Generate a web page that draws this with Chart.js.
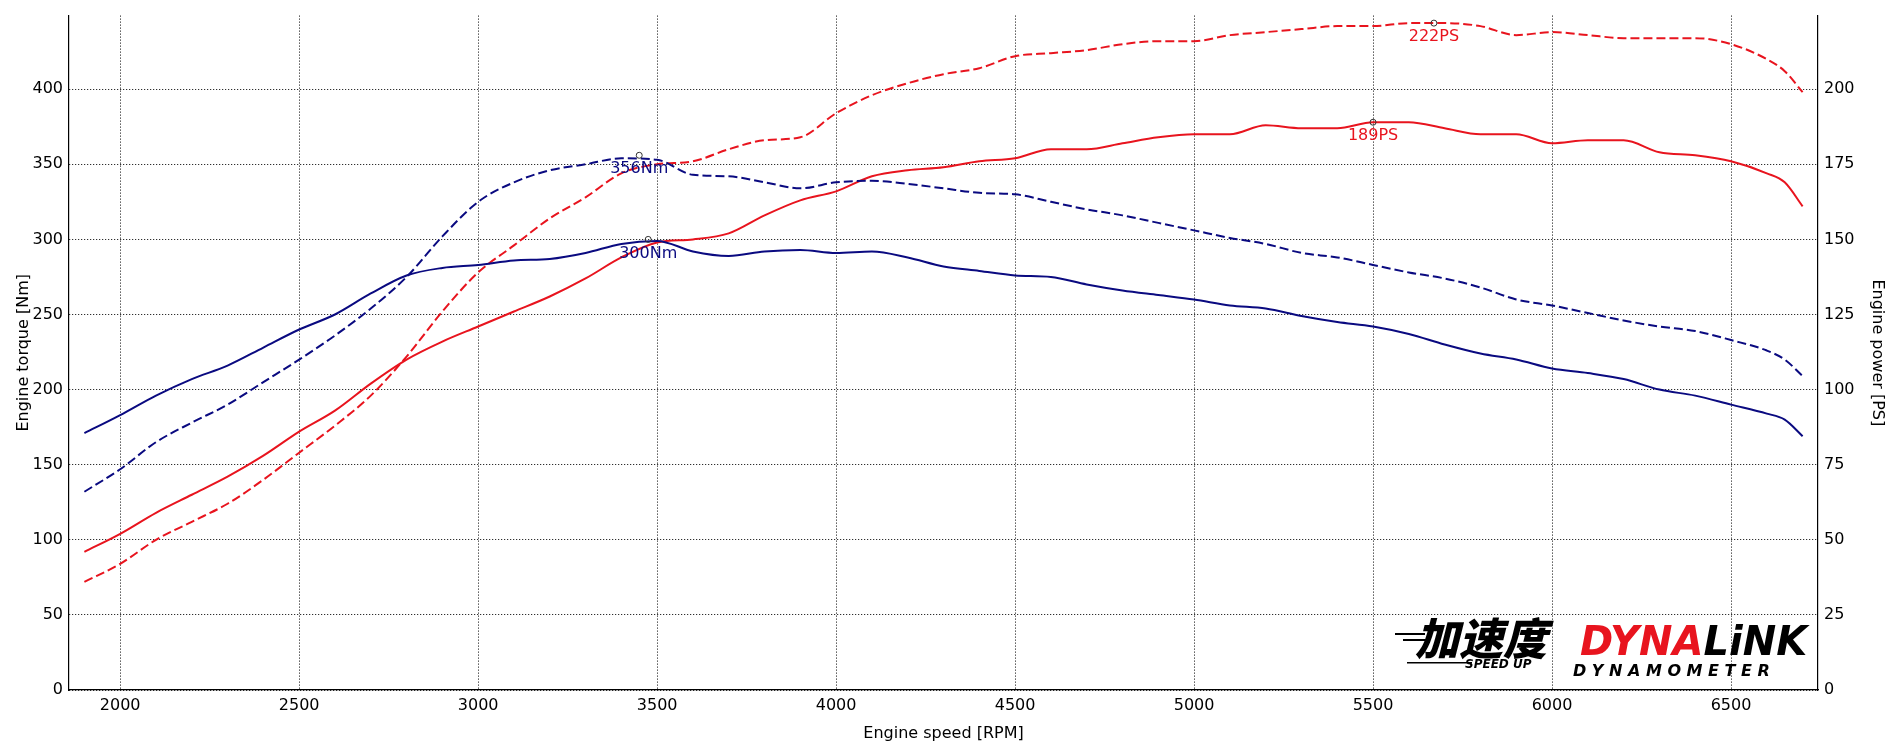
<!DOCTYPE html>
<html><head><meta charset="utf-8">
<script src="https://cdn.jsdelivr.net/npm/chart.js@4/dist/chart.umd.min.js"></script>
<style>html,body{margin:0;padding:0;background:#fff}#w{width:1887px;height:747px}</style>
</head><body><div id="w"><canvas id="c"></canvas></div>
<script>
const rpm = [1900,2000,2100,2200,2300,2400,2500,2600,2700,2800,2900,3000,3100,3200,3300,3400,3500,3600,3700,3800,3900,4000,4100,4200,4300,4400,4500,4600,4700,4800,4900,5000,5100,5200,5300,5400,5500,5600,5700,5800,5900,6000,6100,6200,6300,6400,6500,6600,6650,6700];
const torqueStock = [171,183,196,207,216,228,240,250,264,276,281,283,286,287,291,297,299,292,289,292,293,291,292,288,282,279,276,275,270,266,263,260,256,254,249,245,242,237,230,224,220,214,211,207,200,196,190,184,180,169];
const torqueTuned = [132,147,165,178,190,205,220,236,254,275,302,325,338,346,350,354,353,343,342,338,334,338,339,337,334,331,330,325,320,316,311,306,301,297,291,288,283,278,274,268,260,256,251,246,242,239,233,226,220,209];
const powerStock = [46,52,59,65,71,78,86,93,102,110,116,121,126,131,137,144,149,150,152,158,163,166,171,173,174,176,177,180,180,182,184,185,185,188,187,187,189,189,187,185,185,182,183,183,179,178,176,172,169,161];
const powerTuned = [36,42,50,56,62,70,79,88,98,111,126,139,148,157,164,172,175,176,180,183,184,192,198,202,205,207,211,212,213,215,216,216,218,219,220,221,221,222,222,221,218,219,218,217,217,217,215,210,206,199];
const xTicks = [2000,2500,3000,3500,4000,4500,5000,5500,6000,6500];
const peaks = [
  {x:3450,y:356,axis:'y',label:'356Nm',color:'#0a0a80'},
  {x:3475,y:300,axis:'y',label:'300Nm',color:'#0a0a80'},
  {x:5670,y:222,axis:'y1',label:'222PS',color:'#e8141e'},
  {x:5500,y:189,axis:'y1',label:'189PS',color:'#e8141e'}
];
const NAVY='#0a0a80', RED='#e8141e';
const pts = a => a.map((v,i)=>({x:rpm[i],y:v}));
const FONT = "'DejaVu Sans', sans-serif";
Chart.defaults.font.family = FONT;
Chart.defaults.font.size = 16;
Chart.defaults.color = '#000';

const annot = {
  id:'annot',
  afterDatasetsDraw(ch){
    const c=ch.ctx, xs=ch.scales.x;
    c.save();
    c.font="16px "+FONT; c.textAlign='center'; c.textBaseline='top';
    peaks.forEach(p=>{
      const px=xs.getPixelForValue(p.x), py=ch.scales[p.axis].getPixelForValue(p.y);
      c.strokeStyle='#333'; c.lineWidth=1; c.beginPath(); c.arc(px,py,3,0,Math.PI*2); c.stroke();
      c.fillStyle=p.color; c.fillText(p.label,px,py+6);
    });
    const lx=1395, ly=615;
    c.textAlign='left'; c.textBaseline='alphabetic';
    c.fillStyle='#000'; c.font="italic 900 44px 'Noto Sans CJK SC'";
    c.fillText('加速度',lx+20,ly+40);
    c.fillRect(lx,ly+18,30,2); c.fillRect(lx+8,ly+24,22,2);
    c.fillRect(lx+12,ly+47,65,1.5);
    c.font="italic bold 12px "+FONT; c.fillText('SPEED UP',lx+70,ly+53);
    c.font="italic 900 40px "+FONT;
    c.fillStyle=RED; c.fillText('DYNA',lx+185,ly+40);
    const w=c.measureText('DYNA').width;
    c.fillStyle='#000'; c.fillText('LiNK',lx+185+w,ly+40);
    c.font="italic 900 16px "+FONT;
    c.fillText('D Y N A M O M E T E R',lx+178,ly+61);
    c.restore();
  }
};
const plain = v => String(v);
new Chart(document.getElementById('c'),{
  type:'line',
  data:{datasets:[
    {data:pts(torqueStock),yAxisID:'y',borderColor:NAVY,borderWidth:2,pointRadius:0,cubicInterpolationMode:'monotone'},
    {data:pts(torqueTuned),yAxisID:'y',borderColor:NAVY,borderWidth:2,borderDash:[9,4],pointRadius:0,cubicInterpolationMode:'monotone'},
    {data:pts(powerStock),yAxisID:'y1',borderColor:RED,borderWidth:2,pointRadius:0,cubicInterpolationMode:'monotone'},
    {data:pts(powerTuned),yAxisID:'y1',borderColor:RED,borderWidth:2,borderDash:[9,4],pointRadius:0,cubicInterpolationMode:'monotone'}
  ]},
  options:{
    responsive:true,maintainAspectRatio:false,animation:false,
    layout:{padding:{top:14,left:0,right:0,bottom:0}},
    plugins:{legend:{display:false},tooltip:{enabled:false}},
    scales:{
      x:{type:'linear',min:1857,max:6743,
        afterBuildTicks:s=>{s.ticks=xTicks.map(v=>({value:v}));},
        afterFit:s=>{s.height=57;},
        grid:{color:'#000',lineWidth:1,drawTicks:false},
        border:{color:'#000',width:1.2,dash:[1,2]},
        ticks:{padding:6,callback:plain},
        title:{display:true,text:'Engine speed [RPM]',padding:{top:2}}
      },
      y:{position:'left',min:0,max:449,
        afterBuildTicks:s=>{s.ticks=[0,50,100,150,200,250,300,350,400].map(v=>({value:v}));},
        afterFit:s=>{s.width=69;},
        grid:{color:'#000',lineWidth:1,drawTicks:false},
        border:{color:'#000',width:1.2,dash:[1,2]},
        ticks:{padding:6,callback:plain},
        title:{display:true,text:'Engine torque [Nm]',padding:{top:14,bottom:0}}
      },
      y1:{position:'right',min:0,max:224.5,
        afterBuildTicks:s=>{s.ticks=[0,25,50,75,100,125,150,175,200].map(v=>({value:v}));},
        afterFit:s=>{s.width=69;},
        grid:{display:false,drawTicks:false},
        border:{color:'#000',width:1.2},
        ticks:{padding:6,callback:plain},
        title:{display:true,text:'Engine power [PS]',padding:{top:0}}
      }
    }
  },
  plugins:[annot]
});
</script></body></html>
